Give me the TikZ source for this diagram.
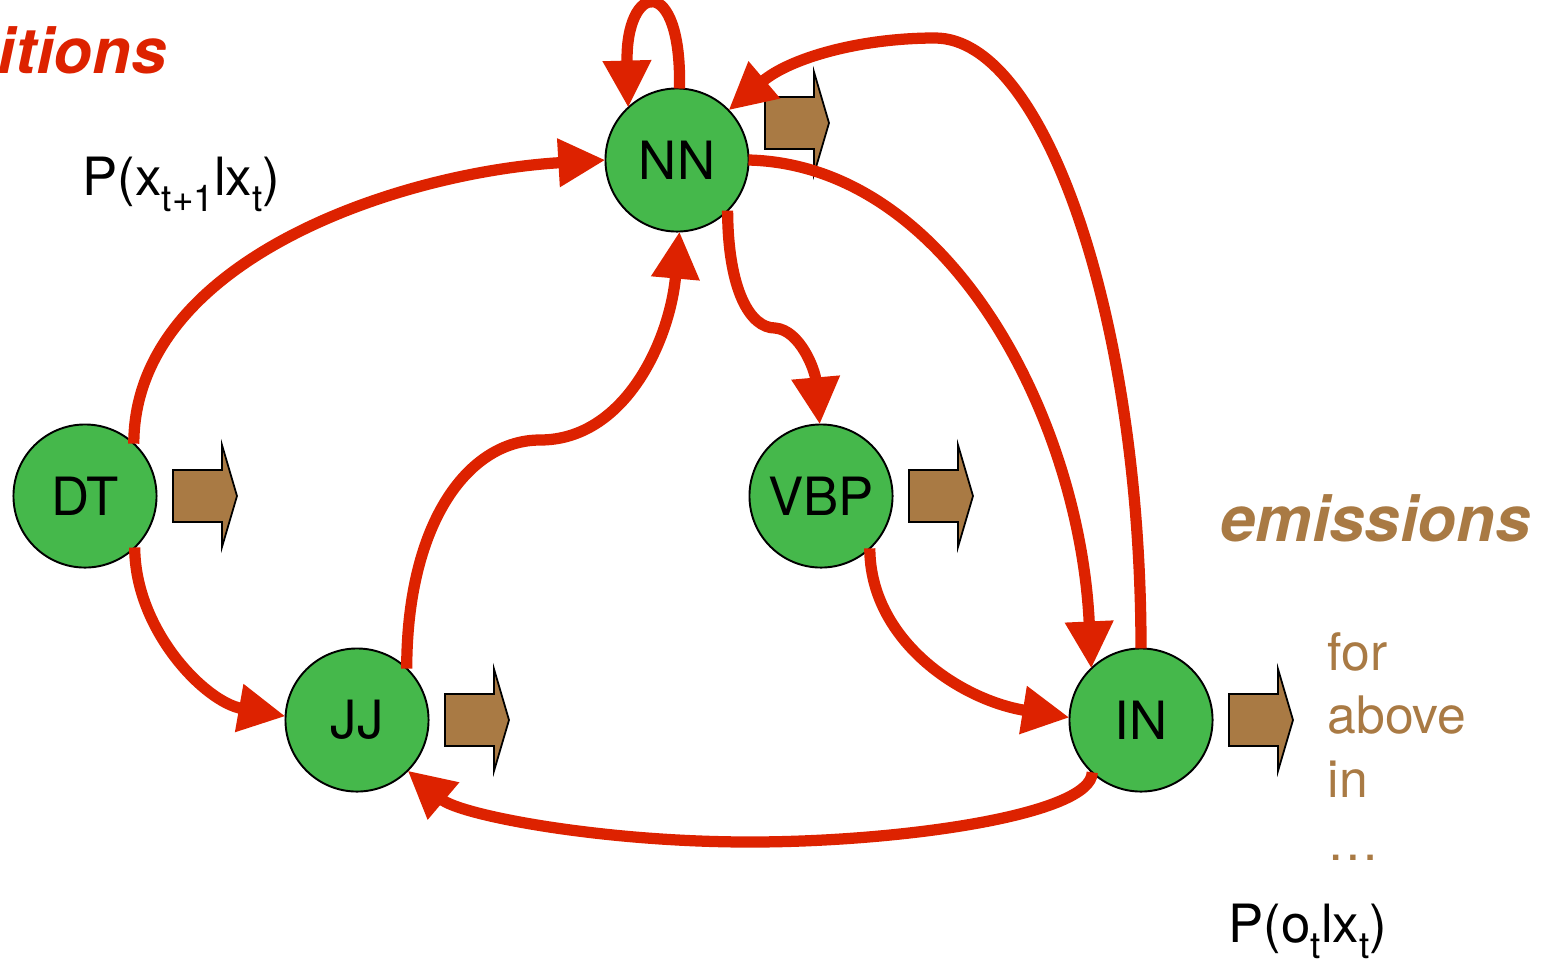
\documentclass[tikz,border=0pt]{standalone}
\usepackage{fontspec}
\setmainfont{TeX Gyre Heros}
\usetikzlibrary{arrows.meta}
\definecolor{myred}{HTML}{DD2200}
\definecolor{mygreen}{HTML}{45B84B}
\definecolor{mybrown}{HTML}{A97A44}
\newcommand{\lowsub}[1]{\raisebox{-4.6pt}{\fontsize{10.5}{12}\selectfont #1}}
\begin{document}
\begin{tikzpicture}[x=0.01cm,y=-0.01cm,
  state/.style={circle, draw=black, line width=0.55pt, fill=mygreen, minimum size=1.43cm,
    inner sep=0pt, outer sep=0pt, font=\fontsize{15}{18}\selectfont},
  trans/.style={draw=myred, line width=3.2pt, -{Triangle[length=13.4pt,width=13pt]}},
  emitarrow/.pic={\draw[fill=mybrown, draw=black, line width=0.5pt, line join=miter]
    (0,-26) -- (49,-26) -- (49,-51) -- (64,0) -- (49,51) -- (49,26) -- (0,26) -- cycle;},
  lbl/.style={inner sep=0pt, anchor=base west, font=\fontsize{15}{18}\selectfont},
  word/.style={inner sep=0pt, anchor=base west, text=mybrown, font=\fontsize{14.7}{18}\selectfont},
  title/.style={inner sep=0pt, font=\fontsize{18}{21}\selectfont\bfseries\itshape}]
\useasboundingbox (0,0) rectangle (1555,963);

% states
\node[state] (NN) at (677,160) {NN};
\node[state] (DT) at (85,496) {DT};
\node[state] (JJ) at (357,720) {JJ};
\node[state] (VBP) at (821,496) {VBP};
\node[state] (IN) at (1141,720) {IN};

% emission arrows
\pic at (173,496) {emitarrow};
\pic at (765,123) {emitarrow};
\pic at (445,720) {emitarrow};
\pic at (909,496) {emitarrow};
\pic at (1229,720) {emitarrow};

% transitions
\draw[trans] (DT.47) .. controls (134,260) and (400,172) .. (NN.west);
\draw[trans] (DT.-46) .. controls (135,630) and (205,702) .. (JJ.177);
\draw[trans] (JJ.46) .. controls (407,520) and (470,440) .. (540,440)
  .. controls (625,440) and (670,340) .. (NN.-88);
\draw[trans] (NN.88) .. controls (682,-28) and (625,-18) .. (NN.133);
\draw[trans] (NN.-45) .. controls (728,290) and (750,328) .. (775,328)
  .. controls (800,330) and (815,370) .. (VBP.91);
\draw[trans] (NN.east) .. controls (950,165) and (1080,420) .. (IN.134);
\draw[trans] (IN.north) .. controls (1141,320) and (1045,38) .. (935,38)
  .. controls (860,38) and (790,58) .. (NN.44);
\draw[trans] (VBP.-47) .. controls (870,640) and (960,700) .. (IN.178);
\draw[trans] (IN.-133) .. controls (1092,815) and (900,842) .. (750,842)
  .. controls (600,842) and (460,815) .. (JJ.-45);

% texts
\node[title, anchor=base east, text=myred] (tr) at (167,73) {itions};
\node[title, anchor=base west, text=mybrown] (em) at (1220,541) {emissions};
\node[lbl] (px) at (82,195) {P(x\lowsub{t+1}lx\lowsub{t})};
\node[lbl] (po) at (1228,942) {P(o\lowsub{t}lx\lowsub{t})};
\node[word] (w1) at (1327,670) {for};
\node[word] (w2) at (1327,733) {above};
\node[word] (w3) at (1327,797) {in};
\node[word] (w4) at (1327,860) {…};
\end{tikzpicture}
\end{document}
